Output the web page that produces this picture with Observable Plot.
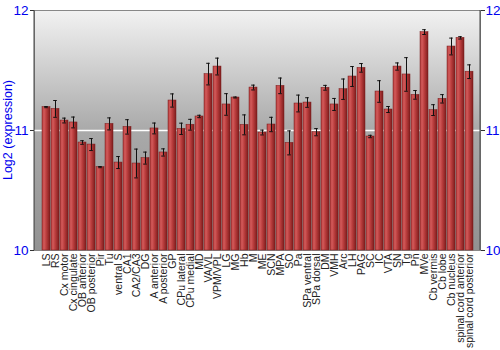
<!DOCTYPE html>
<html><head><meta charset="utf-8">
<script src="https://cdn.jsdelivr.net/npm/d3@7"></script>
<script src="https://cdn.jsdelivr.net/npm/@observablehq/plot@0.6"></script>
<style>body{margin:0;background:#fff;font-family:"Liberation Sans",Arial,sans-serif;} svg{overflow:visible;}</style>
</head><body><div id="chart"></div>
<script>
const regions = ["LS","RS","Cx motor","Cx cingulate","OB anterior","OB posterior","Pir","Tu","ventral S","CA1","CA2/CA3","DG","A anterior","A posterior","GP","CPu lateral","CPu medial","MD","VA/VL","VPM/VPL","LG","MG","Hb","M","ME","SCN","MPA","SO","Pa","SPa ventral","SPa dorsal","DM","VMH","Arc","LH","PAG","SC","IC","VTA","SN","Tg","Pn","MVe","Cb vermis","Cb lobe","Cb nucleus","spinal cord anterior","spinal cord posterior"];
const values = [11.195,11.18,11.083,11.067,10.9,10.883,10.695,11.055,10.733,11.03,10.725,10.77,11.017,10.817,11.25,11.014,11.048,11.117,11.47,11.533,11.217,11.275,11.047,11.358,10.983,11.05,11.372,10.897,11.225,11.233,10.986,11.356,11.217,11.344,11.45,11.522,10.95,11.325,11.175,11.533,11.467,11.297,11.82,11.17,11.264,11.7,11.772,11.49];
const errors = [0.005,0.07,0.02,0.045,0.015,0.05,0.005,0.05,0.05,0.06,0.12,0.05,0.045,0.03,0.055,0.047,0.045,0.01,0.09,0.07,0.09,0.004,0.083,0.02,0.02,0.06,0.065,0.1,0.07,0.04,0.03,0.02,0.05,0.085,0.083,0.036,0.01,0.09,0.025,0.03,0.14,0.036,0.02,0.045,0.035,0.07,0.01,0.057];
const yTicks = [10, 11, 12];
const data = regions.map((r, i) => ({region: r, value: values[i], err: errors[i]}));

const plot = Plot.plot({
  width: 500, height: 350,
  marginTop: 10, marginBottom: 100, marginLeft: 34, marginRight: 20,
  style: {fontFamily: "Liberation Sans, Arial, sans-serif", background: "white", overflow: "visible"},
  x: {domain: regions, padding: 0.16, label: null},
  y: {domain: [10, 12], label: null},
  marks: [
    Plot.frame({fill: "url(#bgGrad)", stroke: "#888"}),
    Plot.ruleY([11], {stroke: "white", strokeWidth: 1.5}),
    Plot.barY(data, {x: "region", y1: 10, y2: "value", fill: "url(#barGrad)", stroke: "#7a1c1c", strokeWidth: 0.5}),
    Plot.ruleX(data, {x: "region", y1: d => d.value - d.err, y2: d => d.value + d.err, stroke: "#111", strokeWidth: 1}),
    Plot.tickY(data, {x: "region", y: d => d.value - d.err, stroke: "#111", insetLeft: 2.2, insetRight: 2.2}),
    Plot.tickY(data, {x: "region", y: d => d.value + d.err, stroke: "#111", insetLeft: 2.2, insetRight: 2.2}),
    Plot.axisY(yTicks, {anchor: "left", tickSize: 4, tickPadding: 2, fontSize: 13.5, tickFormat: d => d, label: null}),
    Plot.axisY(yTicks, {anchor: "right", tickSize: 4, tickPadding: 1, fontSize: 13.5, tickFormat: d => d, label: null}),
    Plot.axisX({anchor: "bottom", tickRotate: -90, tickSize: 0, tickPadding: 3, fontSize: 10.5, label: null, fill: "#222"})
  ]
});

const svg = d3.select(plot);
const defs = svg.insert("defs", ":first-child");
const bg = defs.append("linearGradient").attr("id", "bgGrad").attr("x1", 0).attr("y1", 0).attr("x2", 0).attr("y2", 1);
bg.append("stop").attr("offset", "0%").attr("stop-color", "#f2f2f2");
bg.append("stop").attr("offset", "50%").attr("stop-color", "#a9a9a9");
bg.append("stop").attr("offset", "100%").attr("stop-color", "#929292");
const bar = defs.append("linearGradient").attr("id", "barGrad").attr("x1", 0).attr("y1", 0).attr("x2", 1).attr("y2", 0);
bar.append("stop").attr("offset", "0%").attr("stop-color", "#b03a3a");
bar.append("stop").attr("offset", "25%").attr("stop-color", "#d35a5a");
bar.append("stop").attr("offset", "55%").attr("stop-color", "#b83c3c");
bar.append("stop").attr("offset", "100%").attr("stop-color", "#7e1d1d");

svg.selectAll("g[aria-label='y-axis tick label']").attr("fill", "#0000ee");
svg.selectAll("g[aria-label='y-axis tick label'] text").attr("fill", "#0000ee");
svg.selectAll("g[aria-label='y-axis tick']").attr("stroke", "#333");

svg.append("line").attr("x1", 480).attr("x2", 480).attr("y1", 10).attr("y2", 250).attr("stroke", "#444");
svg.append("line").attr("x1", 34).attr("x2", 34).attr("y1", 10).attr("y2", 250).attr("stroke", "#444");
svg.append("text").attr("transform", "translate(12,130) rotate(-90)").attr("text-anchor", "middle")
  .attr("fill", "#0000ee").attr("font-size", 12.5).text("Log2 (expression)");

document.getElementById("chart").appendChild(plot);
</script></body></html>
